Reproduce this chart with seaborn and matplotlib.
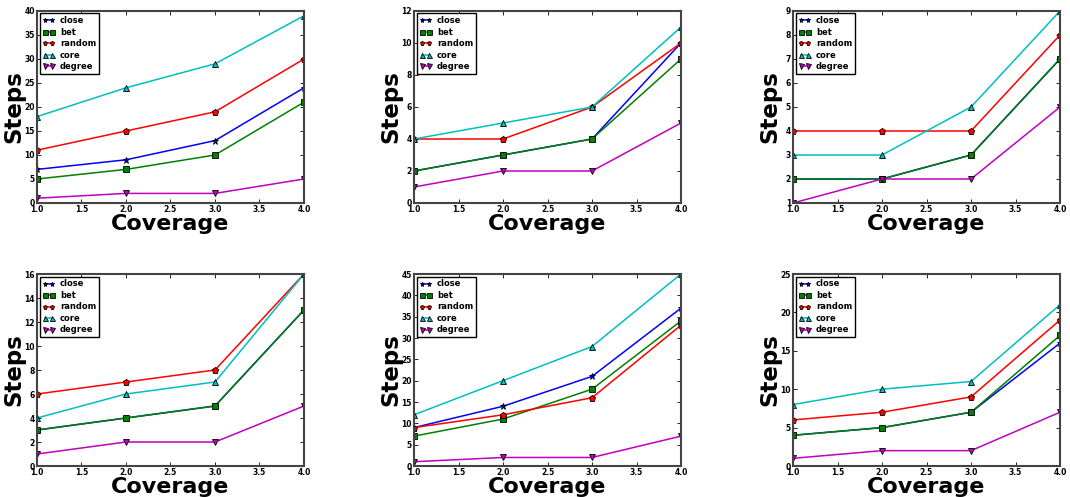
import numpy as np
import pandas as pd
import matplotlib
matplotlib.use("Agg")
import matplotlib.pyplot as plt
import seaborn as sns

# --- data ---
coverage = [1, 2, 3, 4]
methods = ["close", "bet", "random", "core", "degree"]

p1_close = [7, 9, 13, 24]
p1_bet = [5, 7, 10, 21]
p1_random = [11, 15, 19, 30]
p1_core = [18, 24, 29, 39]
p1_degree = [1, 2, 2, 5]

p2_close = [2, 3, 4, 10]
p2_bet = [2, 3, 4, 9]
p2_random = [4, 4, 6, 10]
p2_core = [4, 5, 6, 11]
p2_degree = [1, 2, 2, 5]

p3_close = [2, 2, 3, 7]
p3_bet = [2, 2, 3, 7]
p3_random = [4, 4, 4, 8]
p3_core = [3, 3, 5, 9]
p3_degree = [1, 2, 2, 5]

p4_close = [3, 4, 5, 13]
p4_bet = [3, 4, 5, 13]
p4_random = [6, 7, 8, 16]
p4_core = [4, 6, 7, 16]
p4_degree = [1, 2, 2, 5]

p5_close = [9, 14, 21, 37]
p5_bet = [7, 11, 18, 34]
p5_random = [9, 12, 16, 33]
p5_core = [12, 20, 28, 45]
p5_degree = [1, 2, 2, 7]

p6_close = [4, 5, 7, 16]
p6_bet = [4, 5, 7, 17]
p6_random = [6, 7, 9, 19]
p6_core = [8, 10, 11, 21]
p6_degree = [1, 2, 2, 7]

panels = [
    [p1_close, p1_bet, p1_random, p1_core, p1_degree],
    [p2_close, p2_bet, p2_random, p2_core, p2_degree],
    [p3_close, p3_bet, p3_random, p3_core, p3_degree],
    [p4_close, p4_bet, p4_random, p4_core, p4_degree],
    [p5_close, p5_bet, p5_random, p5_core, p5_degree],
    [p6_close, p6_bet, p6_random, p6_core, p6_degree],
]
ylims = [(0, 40), (0, 12), (1, 9), (0, 16), (0, 45), (0, 25)]

colors = {"close": "b", "bet": "g", "random": "r", "core": "c", "degree": "m"}
markers = {"close": "*", "bet": "s", "random": "p", "core": "^", "degree": "v"}

sns.set_style("white", {"text.color": "black", "axes.labelcolor": "black",
                        "xtick.color": "black", "ytick.color": "black"})

fig = plt.figure(figsize=(10.7, 4.97), dpi=100)
W, H = 1070, 497
lefts = [37, 414, 793]
tops = [11, 274]
aw, ah = 267, 192

for k, series in enumerate(panels):
    r, c = divmod(k, 3)
    ax = fig.add_axes([lefts[c] / W, 1 - (tops[r] + ah) / H, aw / W, ah / H])
    df = pd.DataFrame({
        "Coverage": coverage * len(methods),
        "Steps": np.concatenate(series),
        "method": np.repeat(methods, len(coverage)),
    })
    sns.lineplot(data=df, x="Coverage", y="Steps", hue="method", style="method",
                 palette=colors, markers=markers, dashes=False, markersize=4.5,
                 markeredgecolor="black", markeredgewidth=0.6, linewidth=1.1, ax=ax)
    ax.set_xlim(1, 4)
    ax.set_ylim(*ylims[k])
    ax.set_xticks(np.arange(1.0, 4.01, 0.5))
    ax.xaxis.set_major_formatter(matplotlib.ticker.FormatStrFormatter("%.1f"))
    ax.tick_params(direction="in", length=3, width=0.6, labelsize=5.5, pad=1.5,
                   top=True, right=True, bottom=True, left=True)
    for lab in ax.get_xticklabels() + ax.get_yticklabels():
        lab.set_fontweight("bold")
    for sp in ax.spines.values():
        sp.set_color("#444444")
        sp.set_linewidth(1.5)
    ax.set_xlabel("Coverage", fontsize=16, fontweight="heavy", labelpad=0)
    ax.set_ylabel("Steps", fontsize=16.5, fontweight="heavy")
    ax.yaxis.set_label_coords(-0.045, 0.5)
    leg = ax.legend(loc="upper left", prop={"size": 6, "weight": "bold"},
                    numpoints=2, handlelength=1.5, handletextpad=0.6,
                    labelspacing=0.3, borderpad=0.35, fancybox=False,
                    framealpha=1, borderaxespad=0.3, markerscale=0.8)
    leg.get_frame().set_edgecolor("black")
    leg.get_frame().set_linewidth(1.0)

fig.savefig("out.png", dpi=100)
